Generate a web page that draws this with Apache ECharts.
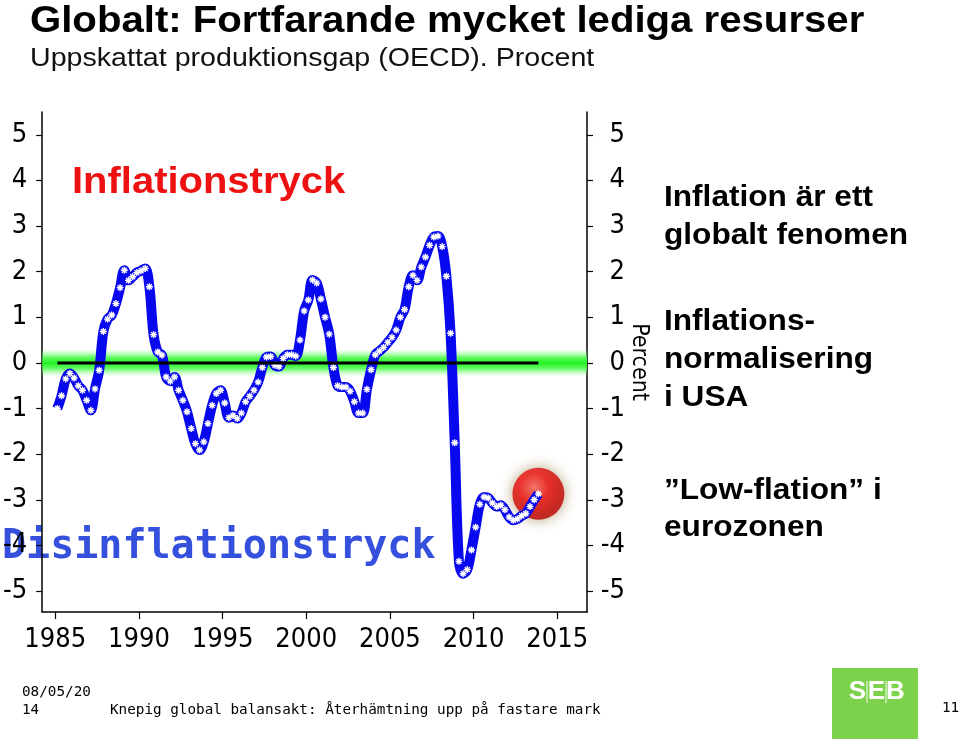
<!DOCTYPE html>
<html><head><meta charset="utf-8">
<script src="https://cdn.jsdelivr.net/npm/echarts@6/dist/echarts.min.js"></script>
<style>html,body{margin:0;padding:0;background:#fff}#c{width:960px;height:739px}</style>
</head><body><div id="c"></div>
<script>
// ---- data ----
const startYear = 1985;          // first quarter of the series
const quartersPerYear = 4;
// OECD estimated output gap, quarterly (Q1..Q4 per row), percent
const gap = [
  -1.00, -0.72, -0.35, -0.23,   // 1985
  -0.33, -0.50, -0.60, -0.82,   // 1986
  -1.04, -0.57, -0.16,  0.69,   // 1987
   0.96,  1.05,  1.30,  1.65,   // 1988
   2.03,  1.81,  1.89,  1.98,   // 1989
   2.02,  2.07,  1.67,  0.62,   // 1990
   0.24,  0.17, -0.31, -0.40,   // 1991
  -0.31, -0.60, -0.82, -1.07,   // 1992
  -1.44, -1.77, -1.91, -1.73,   // 1993
  -1.33, -0.93, -0.67, -0.60,   // 1994
  -0.88, -1.20, -1.15, -1.22,   // 1995
  -1.10, -0.85, -0.73, -0.60,   // 1996
  -0.42, -0.10,  0.13,  0.14,   // 1997
  -0.05, -0.08,  0.10,  0.18,   // 1998
   0.18,  0.15,  0.50,  1.14,   // 1999
   1.38,  1.82,  1.75,  1.40,   // 2000
   1.00,  0.63, -0.10, -0.50,   // 2001
  -0.53, -0.53, -0.62, -0.85,   // 2002
  -1.10, -1.10, -0.58, -0.15,   // 2003
   0.18,  0.26,  0.34,  0.45,   // 2004
   0.56,  0.72,  1.00,  1.17,   // 2005
   1.67,  1.92,  1.81,  2.10,   // 2006
   2.32,  2.58,  2.76,  2.78,   // 2007
   2.55,  1.90,  0.65, -1.75,   // 2008
  -4.35, -4.62, -4.53, -4.10,   // 2009
  -3.60, -3.10, -2.94, -2.96,   // 2010
  -3.07, -3.15, -3.12, -3.22,   // 2011
  -3.38, -3.45, -3.42, -3.35,   // 2012
  -3.30, -3.15, -3.00, -2.87    // 2013
];
const xTicks = [1985, 1990, 1995, 2000, 2005, 2010, 2015];
const yTicks = [-5, -4, -3, -2, -1, 0, 1, 2, 3, 4, 5];
const xRange = [1984.22, 2016.78];
const yRange = [-5.46, 5.5];
const bandHalf = 0.3;

const titleText = 'Globalt: Fortfarande mycket lediga resurser';
const subtitleText = 'Uppskattat produktionsgap (OECD). Procent';
const axisName = 'Percent';
const upLabel = 'Inflationstryck';
const downLabel = 'Disinflationstryck';
const notes = [
  ['Inflation är ett', 'globalt fenomen'],
  ['Inflations-', 'normalisering', 'i USA'],
  ['\u201dLow-flation\u201d i', 'eurozonen']
];
const footerDate = ['08/05/20', '14'];
const footerText = 'Knepig global balansakt: Återhämtning upp på fastare mark';
const pageNo = '11';
const logoLetters = ['S', 'E', 'B'];

// ---- derived ----
const points = gap.map((v, i) => [startYear + (i + 0.5) / quartersPerYear, v]);
const first = points[0], last = points[points.length - 1];
const zeroLine = [[first[0], 0], [last[0], 0]];
const ballPoint = [last];

const tickFont = "'Liberation Sans Narrow','DejaVu Sans Condensed',sans-serif";
const asterisk = 'path://M-1,-5L1,-5L1,5L-1,5Z M-5,-1L5,-1L5,1L-5,1Z M-4.2,-2.8L-2.8,-4.2L4.2,2.8L2.8,4.2Z M2.8,-4.2L4.2,-2.8L-2.8,4.2L-4.2,2.8Z';

function yAxisCfg(pos) {
  const left = pos === 'left';
  return {
    type: 'value', position: pos, min: yRange[0], max: yRange[1],
    splitLine: { show: false },
    axisLine: { show: true, onZero: false, lineStyle: { color: '#000', width: 1.5 } },
    axisTick: { show: true, inside: false, length: 6, lineStyle: { color: '#000', width: 1.2 }, customValues: yTicks },
    axisLabel: { show: true, margin: left ? 15 : 38, align: 'right', color: '#000', fontSize: 27, fontFamily: tickFont, customValues: yTicks, formatter: v => String(v) }
  };
}
const yLeft = yAxisCfg('left');
const yRight = yAxisCfg('right');
yRight.name = axisName;
yRight.nameLocation = 'middle';
yRight.nameRotate = -90;
yRight.nameGap = 40;
yRight.nameMoveOverlap = false;
yRight.nameTextStyle = { color: '#000', fontSize: 23, fontFamily: tickFont };

const g = [];
g.push({ type: 'text', left: 30, top: 4, scaleX: 1.115, style: { text: titleText, font: 'bold 36px "Liberation Sans", Arial, sans-serif', fill: '#000' } });
g.push({ type: 'text', left: 30, top: 46, scaleX: 1.1, style: { text: subtitleText, font: '26px "Liberation Sans", Arial, sans-serif', fill: '#111' } });
g.push({ type: 'text', x: 72, y: 183, scaleX: 1.08, style: { text: upLabel, font: 'bold 37px "Liberation Sans", Arial, sans-serif', fill: '#ee1111', textVerticalAlign: 'middle', shadowColor: 'rgba(90,40,20,0.55)', shadowBlur: 4, shadowOffsetX: 2, shadowOffsetY: 3 } });
g.push({ type: 'text', x: 2, y: 548, style: { text: downLabel, font: 'bold 40px "DejaVu Sans Mono", monospace', fill: '#3450dc', textVerticalAlign: 'middle', shadowColor: 'rgba(20,20,80,0.55)', shadowBlur: 4, shadowOffsetX: 2, shadowOffsetY: 3 } });
const noteY = [[198, 236], [322, 360, 398], [491, 528]];
notes.forEach((grp, gi) => grp.forEach((line, li) => {
  g.push({ type: 'text', x: 664, y: noteY[gi][li], scaleX: 1.09, style: { text: line, font: 'bold 29px "Liberation Sans", Arial, sans-serif', fill: '#000', textVerticalAlign: 'middle' } });
}));
const monoFont = '14.3px "DejaVu Sans Mono", monospace';
g.push({ type: 'text', x: 22, y: 692, style: { text: footerDate[0], font: monoFont, fill: '#000', textVerticalAlign: 'middle' } });
g.push({ type: 'text', x: 22, y: 710, style: { text: footerDate[1], font: monoFont, fill: '#000', textVerticalAlign: 'middle' } });
g.push({ type: 'text', x: 110, y: 710, style: { text: footerText, font: monoFont, fill: '#000', textVerticalAlign: 'middle' } });
g.push({ type: 'text', x: 942, y: 708, style: { text: pageNo, font: monoFont, fill: '#000', textVerticalAlign: 'middle' } });
g.push({ type: 'rect', shape: { x: 832, y: 668, width: 86, height: 71 }, style: { fill: '#7dd24b' } });
[857.5, 876.5, 895.5].forEach((x, i) => {
  g.push({ type: 'text', x: x, y: 692, style: { text: logoLetters[i], font: 'bold 26px "Liberation Sans", Arial, sans-serif', fill: '#fff', textAlign: 'center', textVerticalAlign: 'middle' } });
});
[867, 886].forEach(x => g.push({ type: 'line', shape: { x1: x, y1: 681, x2: x, y2: 703 }, style: { stroke: '#fff', lineWidth: 1 } }));

const option = {
  animation: false,
  backgroundColor: '#fff',
  grid: { left: 41, right: 373, top: 112, bottom: 127, containLabel: false },
  xAxis: {
    type: 'value', min: xRange[0], max: xRange[1],
    splitLine: { show: false },
    axisLine: { show: true, onZero: false, lineStyle: { color: '#000', width: 1.5 } },
    axisTick: { show: true, inside: false, length: 7, lineStyle: { color: '#000', width: 1.2 }, customValues: xTicks },
    axisLabel: { show: true, margin: 14, color: '#000', fontSize: 27, fontFamily: tickFont, customValues: xTicks, formatter: v => String(v) }
  },
  yAxis: [yLeft, yRight],
  series: [
    {
      name: 'band', type: 'line', data: zeroLine, z: 0, symbol: 'none', silent: true,
      lineStyle: { opacity: 0 },
      markArea: {
        silent: true,
        itemStyle: {
          color: { type: 'linear', x: 0, y: 0, x2: 0, y2: 1, colorStops: [
            { offset: 0, color: 'rgba(150,255,150,0)' },
            { offset: 0.3, color: 'rgba(70,250,70,0.85)' },
            { offset: 0.5, color: '#22f022' },
            { offset: 0.7, color: 'rgba(70,250,70,0.85)' },
            { offset: 1, color: 'rgba(150,255,150,0)' }
          ] }
        },
        data: [[{ xAxis: xRange[0], yAxis: bandHalf }, { xAxis: xRange[1], yAxis: -bandHalf }]]
      }
    },
    {
      name: 'ball', type: 'scatter', data: ballPoint, z: 1, silent: true,
      symbol: 'circle', symbolSize: 52,
      itemStyle: {
        color: { type: 'radial', x: 0.42, y: 0.38, r: 0.62, colorStops: [
          { offset: 0, color: '#ff6a6a' },
          { offset: 0.45, color: '#f21212' },
          { offset: 1, color: '#b80000' }
        ] },
        shadowBlur: 14, shadowColor: 'rgba(150,120,60,0.85)'
      }
    },
    {
      name: 'gap', type: 'line', data: points, z: 2, silent: true,
      smooth: 0.35, showAllSymbol: true,
      symbol: asterisk, symbolSize: 7,
      lineStyle: { color: '#0808ee', width: 10 },
      itemStyle: { color: '#ffffff', borderWidth: 0 }
    },
    {
      name: 'zero', type: 'line', data: zeroLine, z: 3, silent: true, symbol: 'none',
      lineStyle: { color: '#000', width: 3 }
    }
  ],
  graphic: g
};
const chart = echarts.init(document.getElementById('c'), null, { renderer: 'canvas' });
chart.setOption(option);
</script>
</body></html>
